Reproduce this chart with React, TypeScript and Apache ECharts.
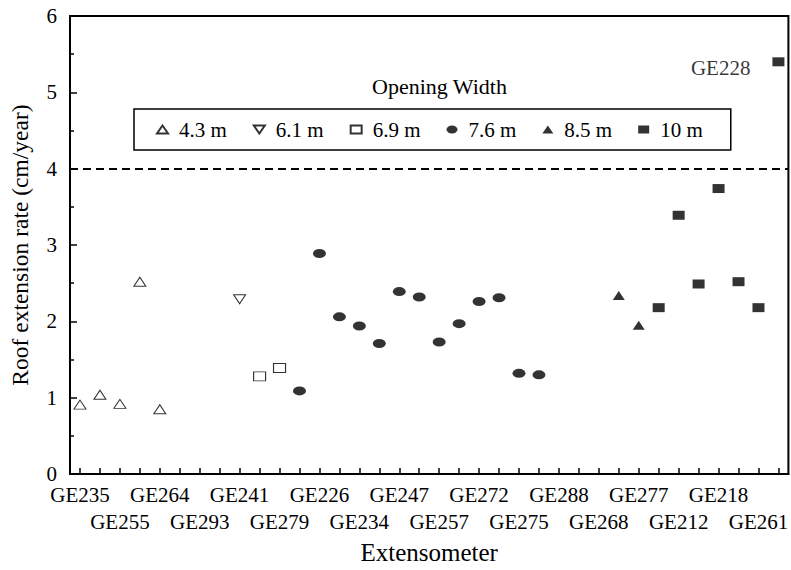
import React, { useEffect, useRef } from "react";
import * as echarts from "echarts";

const FONT = '"Liberation Serif", "Times New Roman", serif';

// Extensometer slots along the x axis; only every other slot carries a printed name.
const extensometers = [
  "GE235", "", "GE255", "", "GE264", "", "GE293", "", "GE241", "",
  "GE279", "", "GE226", "", "GE234", "", "GE247", "", "GE257", "",
  "GE272", "", "GE275", "", "GE288", "", "GE268", "", "GE277", "",
  "GE212", "", "GE218", "", "GE261", "",
];

// Roof extension rate (cm/year) per opening width: slot index + rate
const w43Slots = [0, 1, 2, 3, 4];
const w43Rates = [0.91, 1.04, 0.92, 2.52, 0.85];

const w61Slots = [8];
const w61Rates = [2.29];

const w69Slots = [9, 10];
const w69Rates = [1.28, 1.39];

const w76Slots = [11, 12, 13, 14, 15, 16, 17, 18, 19, 20, 21, 22, 23];
const w76Rates = [1.09, 2.89, 2.06, 1.94, 1.71, 2.39, 2.32, 1.73, 1.97, 2.26, 2.31, 1.32, 1.3];

const w85Slots = [27, 28];
const w85Rates = [2.34, 1.95];

const w10Slots = [29, 30, 31, 32, 33, 34, 35];
const w10Rates = [2.18, 3.39, 2.49, 3.74, 2.52, 2.18, 5.4];

const outlierSlot = 35;
const outlierName = "GE228";
const thresholdRate = 4;

const ELLIPSE = "path://M10,5A5,5,0,1,1,0,5A5,5,0,1,1,10,5Z";
const TRI_DOWN = "path://M0,0L10,0L5,8Z";

const pairs = (slots: number[], rates: number[]) =>
  slots.map((s, i) => [s, rates[i]]);

const openStyle = { color: "#fff", borderColor: "#000", borderWidth: 1 };
const solidStyle = { color: "#000", borderColor: "#000", borderWidth: 0 };

export default function App() {
  const ref = useRef<HTMLDivElement>(null);

  useEffect(() => {
    if (!ref.current) return;
    const chart = echarts.init(ref.current, null, { renderer: "svg" });

    const w10Data: any[] = pairs(w10Slots, w10Rates).map((d) =>
      d[0] === outlierSlot
        ? {
            value: d,
            label: {
              show: true,
              position: "left",
              distance: 22,
              offset: [0, 6],
              formatter: outlierName,
              fontFamily: FONT,
              fontSize: 21,
              color: "#000",
            },
          }
        : d
    );

    chart.setOption({
      animation: false,
      backgroundColor: "#fff",
      title: {
        text: "Opening Width",
        left: 367,
        top: 70,
        textStyle: { fontFamily: FONT, fontSize: 22, fontWeight: "normal", color: "#000" },
      },
      legend: {
        left: 134,
        top: 109,
        orient: "horizontal",
        padding: [10, 28, 10, 22],
        itemWidth: 11,
        itemHeight: 8,
        itemGap: 26,
        borderColor: "#000",
        borderWidth: 1.5,
        symbolKeepAspect: false,
        selectedMode: false,
        textStyle: { fontFamily: FONT, fontSize: 21, color: "#000", padding: [0, 0, 0, 6] },
        data: [
          { name: "4.3 m", itemStyle: { borderWidth: 2 } },
          { name: "6.1 m", itemStyle: { borderWidth: 2 } },
          { name: "6.9 m", itemStyle: { borderWidth: 2 } },
          { name: "7.6 m" },
          { name: "8.5 m" },
          { name: "10 m" },
        ],
      },
      grid: {
        left: 66,
        right: -1,
        top: 16,
        bottom: 89,
        show: true,
        borderColor: "#000",
        borderWidth: 2,
        backgroundColor: "transparent",
      },
      xAxis: {
        type: "category",
        data: extensometers,
        boundaryGap: true,
        name: "Extensometer",
        nameLocation: "middle",
        nameGap: 62,
        nameTextStyle: { fontFamily: FONT, fontSize: 25, color: "#000" },
        axisLine: { lineStyle: { color: "#000", width: 2 } },
        axisTick: {
          show: true,
          inside: true,
          length: 6,
          interval: 0,
          alignWithLabel: true,
          lineStyle: { color: "#000", width: 1.5 },
        },
        axisLabel: {
          interval: 0,
          margin: 8,
          fontFamily: FONT,
          fontSize: 21,
          lineHeight: 26.5,
          color: "#000",
          // names alternate between an upper and a lower row
          formatter: (v: string, i: number) => (i % 4 === 2 ? "\n" + v : v),
        },
        splitLine: { show: false },
      },
      yAxis: {
        type: "value",
        min: 0,
        max: 6,
        interval: 1,
        name: "Roof extension rate (cm/year)",
        nameLocation: "middle",
        nameGap: 38,
        nameTextStyle: { fontFamily: FONT, fontSize: 23.5, color: "#000" },
        axisLine: { show: true, lineStyle: { color: "#000", width: 2 } },
        axisTick: { show: true, inside: true, length: 7, lineStyle: { color: "#000", width: 1.5 } },
        minorTick: { show: true, splitNumber: 2, length: 4, lineStyle: { color: "#000", width: 1.5 } },
        axisLabel: { margin: 13, fontFamily: FONT, fontSize: 21, lineHeight: 12, color: "#000" },
        splitLine: { show: false },
      },
      series: [
        {
          name: "4.3 m",
          type: "scatter",
          symbol: "triangle",
          symbolSize: [12, 9],
          itemStyle: openStyle,
          emphasis: { disabled: true },
          data: pairs(w43Slots, w43Rates),
          markLine: {
            silent: true,
            symbol: "none",
            label: { show: false },
            lineStyle: { color: "#000", width: 2, type: [8, 5] },
            data: [{ yAxis: thresholdRate }],
          },
        },
        {
          name: "6.1 m",
          type: "scatter",
          symbol: TRI_DOWN,
          symbolKeepAspect: false,
          symbolSize: [12, 9],
          itemStyle: openStyle,
          emphasis: { disabled: true },
          data: pairs(w61Slots, w61Rates),
        },
        {
          name: "6.9 m",
          type: "scatter",
          symbol: "rect",
          symbolSize: [12, 9],
          itemStyle: openStyle,
          emphasis: { disabled: true },
          data: pairs(w69Slots, w69Rates),
        },
        {
          name: "7.6 m",
          type: "scatter",
          symbol: ELLIPSE,
          symbolKeepAspect: false,
          symbolSize: [13, 9],
          itemStyle: solidStyle,
          emphasis: { disabled: true },
          data: pairs(w76Slots, w76Rates),
        },
        {
          name: "8.5 m",
          type: "scatter",
          symbol: "triangle",
          symbolSize: [12, 9],
          itemStyle: solidStyle,
          emphasis: { disabled: true },
          data: pairs(w85Slots, w85Rates),
        },
        {
          name: "10 m",
          type: "scatter",
          symbol: "rect",
          symbolSize: [12, 9],
          itemStyle: solidStyle,
          emphasis: { disabled: true },
          data: w10Data,
        },
      ],
    });

    return () => chart.dispose();
  }, []);

  return (
    <div
      ref={ref}
      style={{ position: "absolute", left: 0, top: 0, width: 791, height: 570 }}
    />
  );
}
